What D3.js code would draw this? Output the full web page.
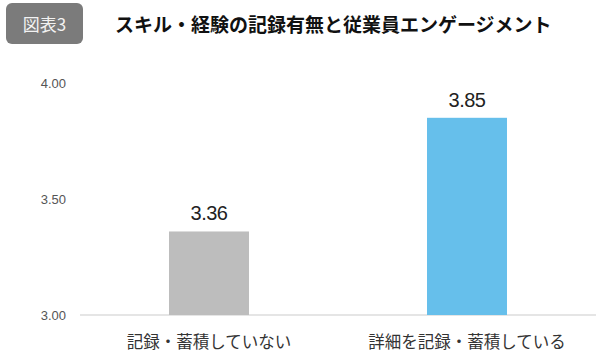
<!DOCTYPE html>
<html>
<head>
<meta charset="utf-8">
<script src="https://cdn.jsdelivr.net/npm/d3@7"></script>
<style>
body { margin: 0; background: #fff; }
svg { display: block; }
</style>
</head>
<body>
<svg id="chart" width="600" height="353"></svg>
<script>
var categories = ["記録・蓄積していない", "詳細を記録・蓄積している"];
var values = [3.36, 3.85];
var barColors = ["#bdbdbd", "#66bfeb"];
var tickValues = [3.00, 3.50, 4.00];
var badgeText = "図表3";
var titleText = "スキル・経験の記録有無と従業員エンゲージメント";

var svg = d3.select("#chart");
var jp = "'Noto Sans CJK JP', sans-serif";
var num = "'Liberation Sans', Arial, sans-serif";

// title badge
svg.append("rect")
	.attr("x", 6).attr("y", 3)
	.attr("width", 77).attr("height", 41)
	.attr("rx", 6)
	.style("fill", "#7b7b7b");
svg.append("text")
	.attr("x", 44.5).attr("y", 31)
	.attr("text-anchor", "middle")
	.style("font-family", jp)
	.style("font-size", "17px")
	.style("fill", "#f2f2f2")
	.text(badgeText);

svg.append("text")
	.attr("x", 115).attr("y", 32)
	.style("font-family", jp)
	.style("font-weight", "700")
	.style("font-size", "19px")
	.style("fill", "#111")
	.text(titleText);

var x = d3.scaleBand()
	.domain(categories)
	.range([80, 596])
	.paddingInner(0.69)
	.paddingOuter(0.345);

var y = d3.scaleLinear()
	.domain([3, 4])
	.range([315, 83]);

// y axis, labels only
var yAxis = svg.append("g")
	.attr("transform", "translate(80,0)")
	.call(d3.axisLeft(y).tickValues(tickValues).tickFormat(d3.format(".2f")).tickSize(0).tickPadding(14));
yAxis.select(".domain").remove();
yAxis.selectAll("text")
	.style("font-family", num)
	.style("font-size", "13px")
	.style("fill", "#555");

// baseline
svg.append("line")
	.attr("x1", 80).attr("x2", 596)
	.attr("y1", y(3)).attr("y2", y(3))
	.style("stroke", "#dcdcdc")
	.style("stroke-width", 1.5);

var data = categories.map(function (c, i) { return { cat: c, val: values[i], color: barColors[i] }; });

svg.selectAll("rect.bar")
	.data(data).enter().append("rect")
	.attr("class", "bar")
	.attr("x", function (d) { return x(d.cat); })
	.attr("y", function (d) { return y(d.val); })
	.attr("width", x.bandwidth())
	.attr("height", function (d) { return y(3) - y(d.val); })
	.style("fill", function (d) { return d.color; });

svg.selectAll("text.val")
	.data(data).enter().append("text")
	.attr("class", "val")
	.attr("x", function (d) { return x(d.cat) + x.bandwidth() / 2; })
	.attr("y", function (d) { return y(d.val) - 11; })
	.attr("text-anchor", "middle")
	.style("font-family", num)
	.style("font-size", "20px")
	.style("letter-spacing", "-0.5px")
	.style("fill", "#222")
	.text(function (d) { return d.val.toFixed(2); });

svg.selectAll("text.cat")
	.data(data).enter().append("text")
	.attr("class", "cat")
	.attr("x", function (d) { return x(d.cat) + x.bandwidth() / 2; })
	.attr("y", 348)
	.attr("text-anchor", "middle")
	.style("font-family", jp)
	.style("font-size", "16.5px")
	.style("fill", "#333")
	.text(function (d) { return d.cat; });
</script>
</body>
</html>
